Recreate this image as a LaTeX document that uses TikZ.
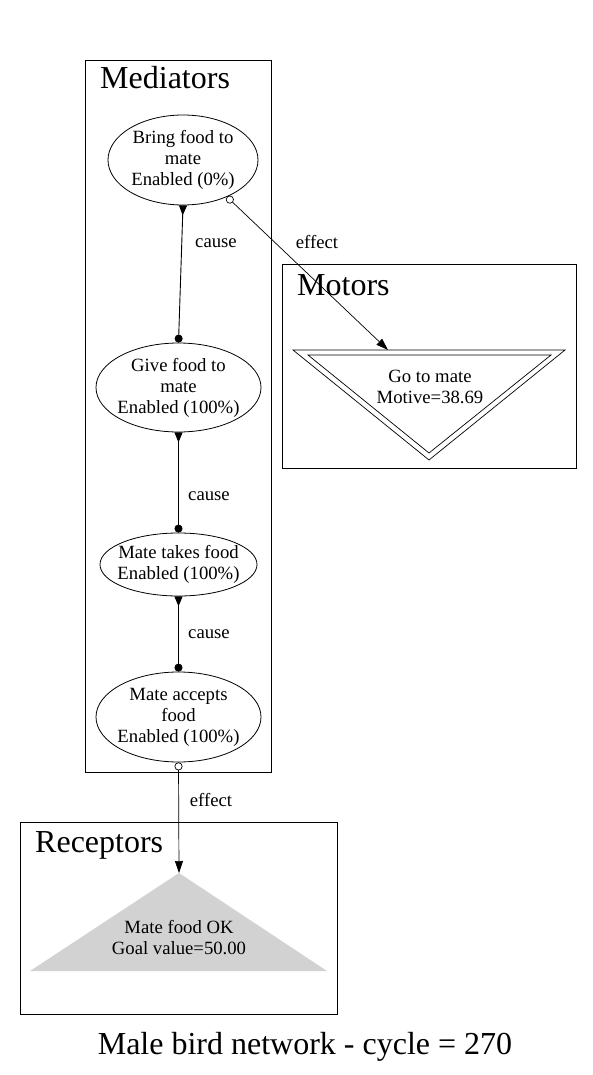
\documentclass[tikz,border=0pt]{standalone}
\usepackage{fontspec}
\setmainfont{Liberation Serif}
\usetikzlibrary{arrows.meta,shapes.geometric}
\begin{document}
\begin{tikzpicture}[x=1pt,y=-1pt,
  every node/.style={font=\fontsize{18.7}{21}\selectfont},
  medstate/.style={ellipse,draw,line width=0.8pt,inner xsep=-6pt,inner ysep=-2pt,align=center},
  cluster/.style={draw,line width=0.8pt},
  clustertitle/.style={font=\fontsize{32}{36}\selectfont,anchor=base west,inner sep=0pt},
  edgelabel/.style={inner sep=0pt},
  causeedge/.style={line width=0.9pt,{Triangle[reversed,length=10pt,width=8pt]}-{Circle[length=8pt]}},
  effectedge/.style={line width=0.7pt,{Circle[open,length=8pt]}-{Triangle[length=12pt,width=8pt]}}]
\useasboundingbox[fill=white] (0,0) rectangle (593,1075);

% clusters
\draw[cluster] (85,60) rectangle (271,772);
\node[clustertitle] (tmed) at (100,89) {Mediators};
\draw[cluster] (282,264) rectangle (576,468);
\node[clustertitle] (tmot) at (297,295) {Motors};
\draw[cluster] (20,822) rectangle (337,1014);
\node[clustertitle] (trec) at (35,852) {Receptors};

% mediator nodes
\node[medstate,minimum width=150pt,minimum height=90pt] (b1) at (183,160) {Bring food to\\mate\\Enabled (0\%)};
\node[medstate,minimum width=165pt,minimum height=89pt] (b2) at (178.5,387.5) {Give food to\\mate\\Enabled (100\%)};
\node[medstate,minimum width=157pt,minimum height=63pt] (b3) at (178.5,564.5) {Mate takes food\\Enabled (100\%)};
\node[medstate,minimum width=165pt,minimum height=90pt] (b4) at (178.5,717) {Mate accepts\\food\\Enabled (100\%)};

% motor node
\draw[line width=0.7pt] (293,350) -- (565,350) -- (429,460) -- cycle;
\draw[line width=0.7pt] (308,355) -- (551,355) -- (429,453) -- cycle;
\node[align=center,inner sep=0pt] (m1) at (430,387) {Go to mate\\Motive=38.69};
\coordinate (m1top) at (388,350);

% receptor node
\fill[gray!35] (179,873) -- (327,971) -- (30,971) -- cycle;
\node[align=center,inner sep=0pt] (r1) at (179,938) {Mate food OK\\Goal value=50.00};
\coordinate (r1top) at (179,873);

% edges
\draw[causeedge] (b1.south) -- (b2.north);
\node[edgelabel] (c1) at (216,243) {cause};
\draw[causeedge] (b2.south) -- (b3.north);
\node[edgelabel] (c2) at (209,496) {cause};
\draw[causeedge] (b3.south) -- (b4.north);
\node[edgelabel] (c3) at (209,634) {cause};
\draw[effectedge] (b1.-40) -- (m1top);
\node[edgelabel] (e1) at (317,242) {effect};
\draw[effectedge] (b4.south) -- (r1top);
\node[edgelabel] (e2) at (211,800) {effect};

% caption
\node[font=\fontsize{32}{36}\selectfont,anchor=base,inner sep=0pt] (cap) at (305,1054) {Male bird network - cycle = 270};
\end{tikzpicture}
\end{document}
